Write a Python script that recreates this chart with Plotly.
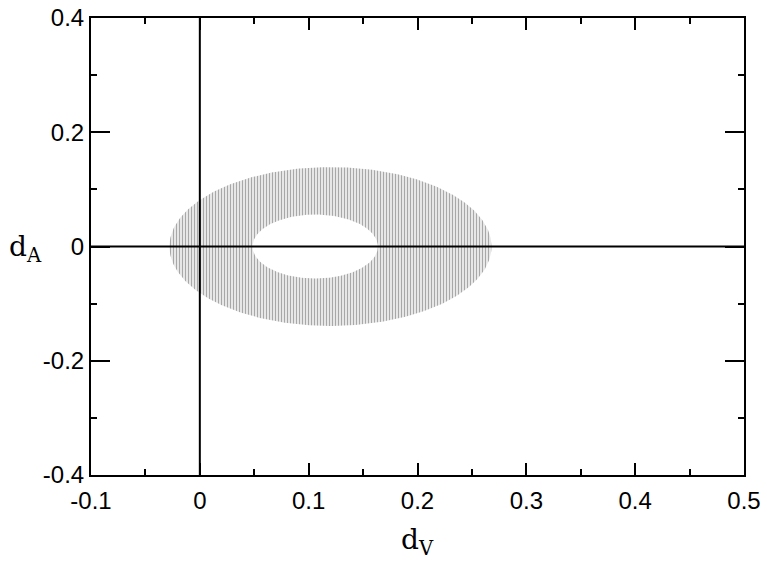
import numpy as np
import plotly.graph_objects as go

# Region: annulus between two ellipses (dV, dA plane)
outer_center = (0.120, 0.0)
outer_semi = (0.148, 0.139)
inner_center = (0.106, 0.0)
inner_semi = (0.0576, 0.056)

x_ticks = [-0.1, 0, 0.1, 0.2, 0.3, 0.4, 0.5]
x_tick_labels = ["-0.1", "0", "0.1", "0.2", "0.3", "0.4", "0.5"]
y_ticks = [-0.4, -0.2, 0, 0.2, 0.4]
y_tick_labels = ["-0.4", "-0.2", "0", "0.2", "0.4"]

t = np.linspace(0, 2 * np.pi, 400)
ox = outer_center[0] + outer_semi[0] * np.cos(t)
oy = outer_center[1] + outer_semi[1] * np.sin(t)
ix = inner_center[0] + inner_semi[0] * np.cos(-t)
iy = inner_center[1] + inner_semi[1] * np.sin(-t)
ring_x = np.concatenate([ox, ix, [ox[0]]])
ring_y = np.concatenate([oy, iy, [oy[0]]])

fig = go.Figure()
fig.add_trace(go.Scatter(
    x=ring_x, y=ring_y, mode="lines", fill="toself",
    line=dict(width=0, color="rgba(0,0,0,0)"),
    fillcolor="#e6e6e6",
    fillpattern=dict(shape="|", fgcolor="#a8a8a8", bgcolor="#eeeeee", size=3, solidity=0.4),
    hoverinfo="skip", showlegend=False,
))

# zero lines
fig.add_shape(type="line", x0=0, x1=0, y0=-0.4, y1=0.4, xref="x", yref="y",
              line=dict(color="black", width=2), layer="above")
fig.add_shape(type="line", x0=-0.1, x1=0.5, y0=0, y1=0, xref="x", yref="y",
              line=dict(color="black", width=2), layer="above")

tick_font = dict(family="Liberation Sans, Arial, sans-serif", size=24, color="black")

fig.update_xaxes(
    range=[-0.1, 0.5], tickvals=x_ticks, ticktext=x_tick_labels,
    ticks="inside", ticklen=12, tickwidth=1.5, tickcolor="black",
    showline=True, linecolor="black", linewidth=2, mirror="ticks",
    showgrid=False, zeroline=False, tickfont=tick_font, automargin=False,
    ticklabelstandoff=3,
    minor=dict(ticks="inside", ticklen=6, tickwidth=1.5, tickcolor="black", dtick=0.05, tick0=0, showgrid=False),
    layer="above traces",
)
fig.update_yaxes(
    range=[-0.4, 0.4], tickvals=y_ticks, ticktext=y_tick_labels,
    ticks="inside", ticklen=19, tickwidth=1.5, tickcolor="black",
    showline=True, linecolor="black", linewidth=2, mirror="ticks",
    showgrid=False, zeroline=False, tickfont=tick_font, automargin=False,
    minor=dict(ticks="inside", ticklen=6, tickwidth=1.5, tickcolor="black", dtick=0.1, tick0=0, showgrid=False),
    layer="above traces",
)

title_font = dict(family="DejaVu Serif, Liberation Serif, serif", size=28, color="black")
fig.add_annotation(text="d<sub>V</sub>", x=0.5, xref="paper", y=-0.145, yref="paper",
                   showarrow=False, font=title_font, xanchor="center", yanchor="middle")
fig.add_annotation(text="d<sub>A</sub>", x=-0.1, xref="paper", y=0.495, yref="paper",
                   showarrow=False, font=title_font, xanchor="center", yanchor="middle")

fig.update_layout(
    template="none",
    width=767, height=563,
    margin=dict(l=91, r=23, t=18, b=88),
    paper_bgcolor="white", plot_bgcolor="white",
    showlegend=False,
)

fig.write_html("out.html")
